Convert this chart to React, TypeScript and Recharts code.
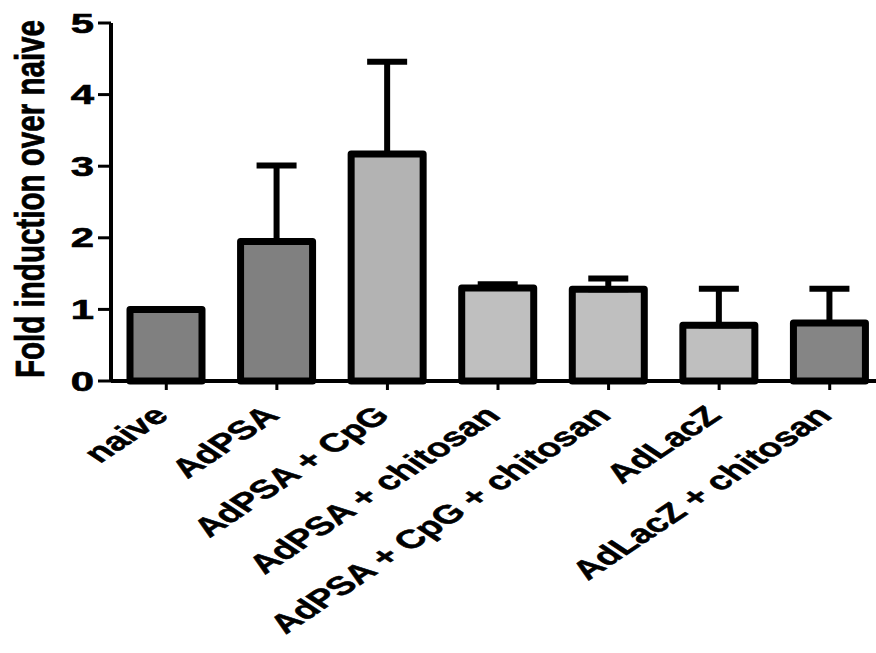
import React from "react";
import { BarChart, Bar, XAxis, YAxis, ErrorBar, Cell } from "recharts";

const groups = [
	"naive",
	"AdPSA",
	"AdPSA + CpG",
	"AdPSA + chitosan",
	"AdPSA + CpG + chitosan",
	"AdLacZ",
	"AdLacZ + chitosan"
];
const foldValues = [1.0, 1.95, 3.17, 1.3, 1.28, 0.78, 0.81];
const errUp = [0, 1.06, 1.29, 0.05, 0.15, 0.51, 0.48];
const fills = ["#808080", "#808080", "#b3b3b3", "#bfbfbf", "#bfbfbf", "#bfbfbf", "#858585"];
const yTicks = [0, 1, 2, 3, 4, 5];

const data = groups.map((g, i) => ({
	name: g,
	value: foldValues[i],
	err: [0, errUp[i]]
}));

const FONT = "'Liberation Sans', Arial, sans-serif";
const STRETCH = 1.5;

function YTick(props: any) {
	const { x, y, payload } = props;
	return (
		<text
			transform={`translate(${x},${y}) scale(1.55,1)`}
			textAnchor="end"
			dominantBaseline="central"
			fontFamily={FONT}
			fontWeight="bold"
			fontSize={27}
			fill="#000"
			stroke="#000"
			strokeWidth={0.6}
		>
			{payload.value}
		</text>
	);
}

function XTick(props: any) {
	const { x, y, payload } = props;
	return (
		<text
			transform={`translate(${x + 4},${y + 25}) scale(${STRETCH},1) rotate(-45)`}
			textAnchor="end"
			fontFamily={FONT}
			fontWeight="bold"
			fontSize={26}
			fill="#000"
			stroke="#000"
			strokeWidth={0.5}
		>
			{payload.value}
		</text>
	);
}

function YLabel() {
	return (
		<text
			transform="translate(44,199) scale(1.5,1) rotate(-90)"
			textAnchor="middle"
			fontFamily={FONT}
			fontWeight="bold"
			fontSize={27}
			textLength={358}
			lengthAdjust="spacingAndGlyphs"
			fill="#000"
			stroke="#000"
			strokeWidth={0.5}
		>
			Fold induction over naive
		</text>
	);
}

export default function App() {
	return (
		<div
			style={{
				position: "absolute",
				left: 0,
				top: 0,
				width: 876,
				height: 653,
				overflow: "hidden",
				background: "#fff"
			}}
		>
			<BarChart
				width={885}
				height={653}
				data={data}
				margin={{ top: 23, right: 0, bottom: 72, left: 0 }}
			>
				<XAxis
					dataKey="name"
					height={200}
					interval={0}
					axisLine={{ stroke: "#000", strokeWidth: 4 }}
					tickLine={{ stroke: "#000", strokeWidth: 3 }}
					tickSize={9}
					tick={<XTick />}
				/>
				<YAxis
					width={111}
					domain={[0, 5]}
					ticks={yTicks}
					axisLine={{ stroke: "#000", strokeWidth: 4 }}
					tickLine={{ stroke: "#000", strokeWidth: 3 }}
					tickSize={13}
					tickMargin={4}
					tick={<YTick />}
					label={{ content: () => <YLabel /> }}
				/>
				<Bar
					dataKey="value"
					barSize={72}
					stroke="#000"
					strokeWidth={7}
					strokeLinejoin="round"
					isAnimationActive={false}
				>
					{data.map((d, i) => (
						<Cell key={d.name} fill={fills[i]} />
					))}
					<ErrorBar
						dataKey="err"
						direction="y"
						width={20}
						stroke="#000"
						strokeWidth={6}
						isAnimationActive={false}
					/>
				</Bar>
			</BarChart>
		</div>
	);
}
